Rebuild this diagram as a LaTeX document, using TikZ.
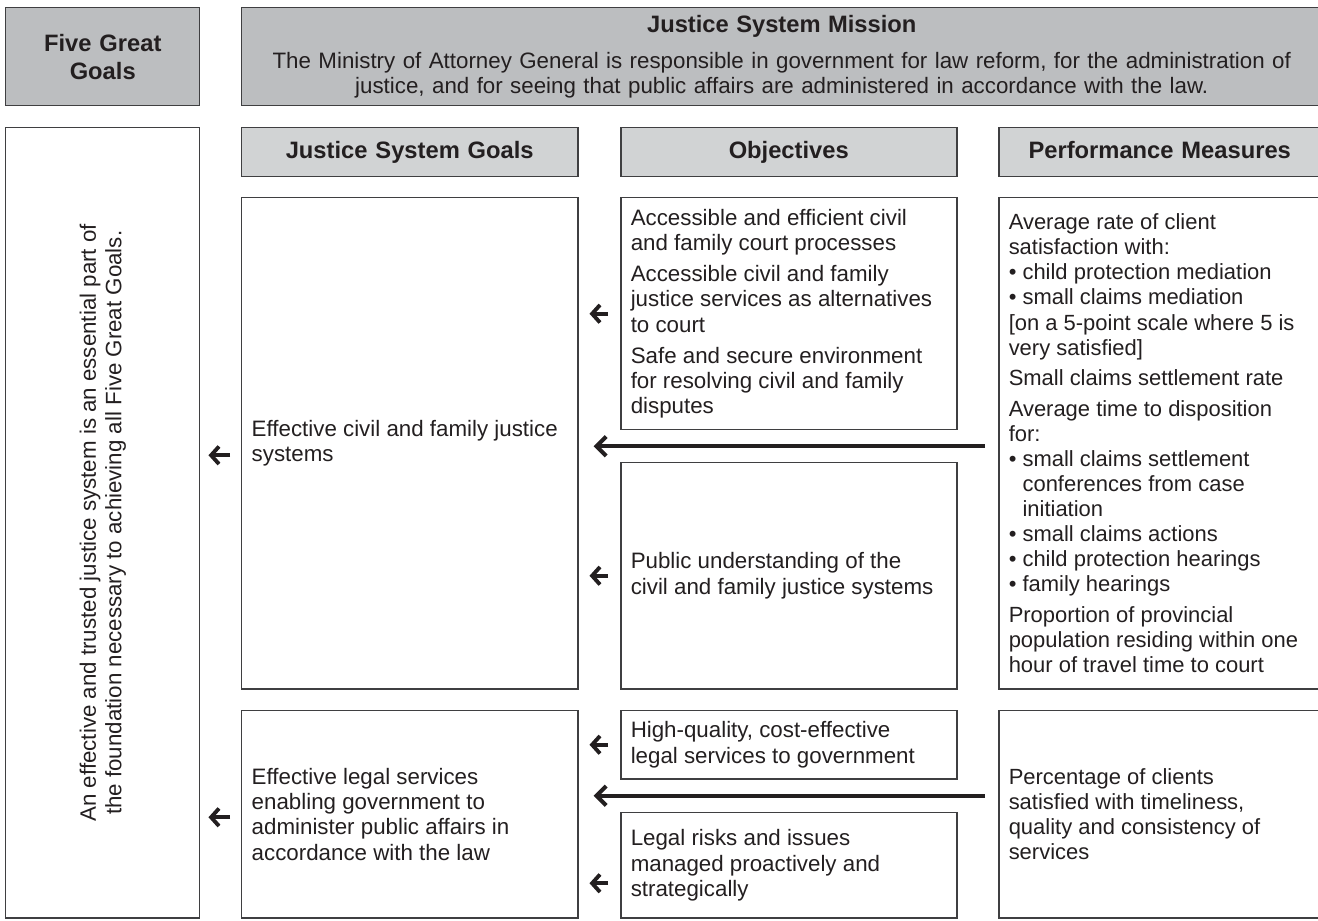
\documentclass[tikz,border=0pt]{standalone}
\usepackage{fontspec}
\setmainfont{Liberation Sans}
\usetikzlibrary{arrows.meta,calc}
\definecolor{edge}{HTML}{3F3F41}
\definecolor{ink}{HTML}{231F20}
\definecolor{greyhead}{HTML}{BCBEC0}
\definecolor{greytab}{HTML}{D1D3D4}

\begin{document}
\begin{tikzpicture}[x=0.2mm,y=-0.2mm,
    every node/.style={text=ink,font=\fontsize{12.7}{14.5}\selectfont},
    cell/.style 2 args={draw=edge,line width=0.85pt,anchor=north west,
        inner xsep=2mm,inner ysep=1mm,align=flush left,text width=#1,minimum height=#2},
    head/.style={font=\bfseries\fontsize{13.5}{16}\selectfont,align=center},
    tab/.style={head,text height=10pt,text depth=3pt},
    meas/.style={font=\fontsize{12.5}{14.3}\selectfont},
    dark/.style={fill=greyhead},
    light/.style={fill=greytab},
    tip/.style={draw=ink,line width=2.2pt,-{Straight Barb[length=4.5pt,width=10pt]}},
    longtip/.style={tip,line width=2.4pt,-{Straight Barb[length=5.5pt,width=11pt]}}]
    \useasboundingbox (0,0) rectangle (1318,921);
    % hàng trên
    \node[cell={34.8mm}{19.6mm},dark,head] (five) at (5,7) {Five Great\\Goals};
    \node[cell={212mm}{19.6mm},dark,align=center] (mission) at (241,7)
        {{\bfseries\fontsize{13.5}{16}\selectfont Justice System Mission}\\[6pt]
        The Ministry of Attorney General is responsible in government for law reform, for the administration of\\
        justice, and for seeing that public affairs are administered in accordance with the law.};
    % cột trái
    \node[cell={34.8mm}{158mm}] (found) at (5,127) {};
    \node[rotate=90,align=center] (foundtext) at (found.center)
        {An effective and trusted justice system is an essential part of\\
        the foundation necessary to achieving all Five Great Goals.};
    % tiêu đề cột
    \foreach \n/\x/\w/\t in {hgoal/241/63.2mm/Justice System Goals,
        hobj/620/63.2mm/Objectives,hmeas/998/60.4mm/Performance Measures}
        \node[cell={\w}{9.8mm},light,tab] (\n) at (\x,127) {\t};
    % mục tiêu
    \node[cell={63.2mm}{98.2mm}] (goal1) at (241,197)
        {Effective civil and family justice\\systems};
    \node[cell={63.2mm}{41.4mm}] (goal2) at (241,710)
        {Effective legal services\\enabling government to\\administer public affairs in\\accordance with the law};
    % nhiệm vụ
    \node[cell={63.2mm}{46.4mm}] (obj1) at (620,197)
        {Accessible and efficient civil\\and family court processes\\[3pt]
        Accessible civil and family\\justice services as alternatives\\to court\\[3pt]
        Safe and secure environment\\for resolving civil and family\\disputes};
    \node[cell={63.2mm}{45.2mm}] (obj2) at (620,462)
        {Public understanding of the\\civil and family justice systems};
    \node[cell={63.2mm}{13.6mm}] (obj3) at (620,710)
        {High-quality, cost-effective\\legal services to government};
    \node[cell={63.2mm}{21mm}] (obj4) at (620,812)
        {Legal risks and issues\\managed proactively and\\strategically};
    % thước đo
    \node[cell={60.4mm}{98.2mm},meas] (meas1) at (998,197)
        {Average rate of client\\satisfaction with:\\
        \textbullet{} child protection mediation\\
        \textbullet{} small claims mediation\\{}
        [on a 5-point scale where 5 is\\very satisfied]\\[3pt]
        Small claims settlement rate\\[3pt]
        Average time to disposition\\for:\\
        \textbullet{} small claims settlement\\
        \phantom{\textbullet{} }conferences from case\\
        \phantom{\textbullet{} }initiation\\
        \textbullet{} small claims actions\\
        \textbullet{} child protection hearings\\
        \textbullet{} family hearings\\[3pt]
        Proportion of provincial\\population residing within one\\hour of travel time to court};
    \node[cell={60.4mm}{41.4mm},meas] (meas2) at (998,710)
        {Percentage of clients\\satisfied with timeliness,\\quality and consistency of\\services};
    % mũi tên
    \foreach \o/\g/\s in {obj1/goal1/0,obj2/goal1/0,obj3/goal2/0,obj4/goal2/18}
        \draw[tip,shorten <=2.4mm,shorten >=2.2mm] ($(\o.west)+(0,\s)$) -- ($(\o.west -| \g.east)+(0,\s)$);
    \foreach \g/\s in {goal1/12,goal2/3}
        \draw[tip,shorten <=2.2mm,shorten >=1.6mm] ($(\g.west)+(0,\s)$) -- ($(\g.west -| found.east)+(0,\s)$);
    \coordinate (gap1) at ($(obj1.south)!.5!(obj2.north)$);
    \coordinate (gap2) at ($(obj3.south)!.5!(obj4.north)$);
    \draw[longtip,shorten <=2.6mm,shorten >=3mm] (gap1 -| meas1.west) -- (gap1 -| goal1.east);
    \draw[longtip,shorten <=2.6mm,shorten >=3mm] (gap2 -| meas2.west) -- (gap2 -| goal2.east);
\end{tikzpicture}
\end{document}
